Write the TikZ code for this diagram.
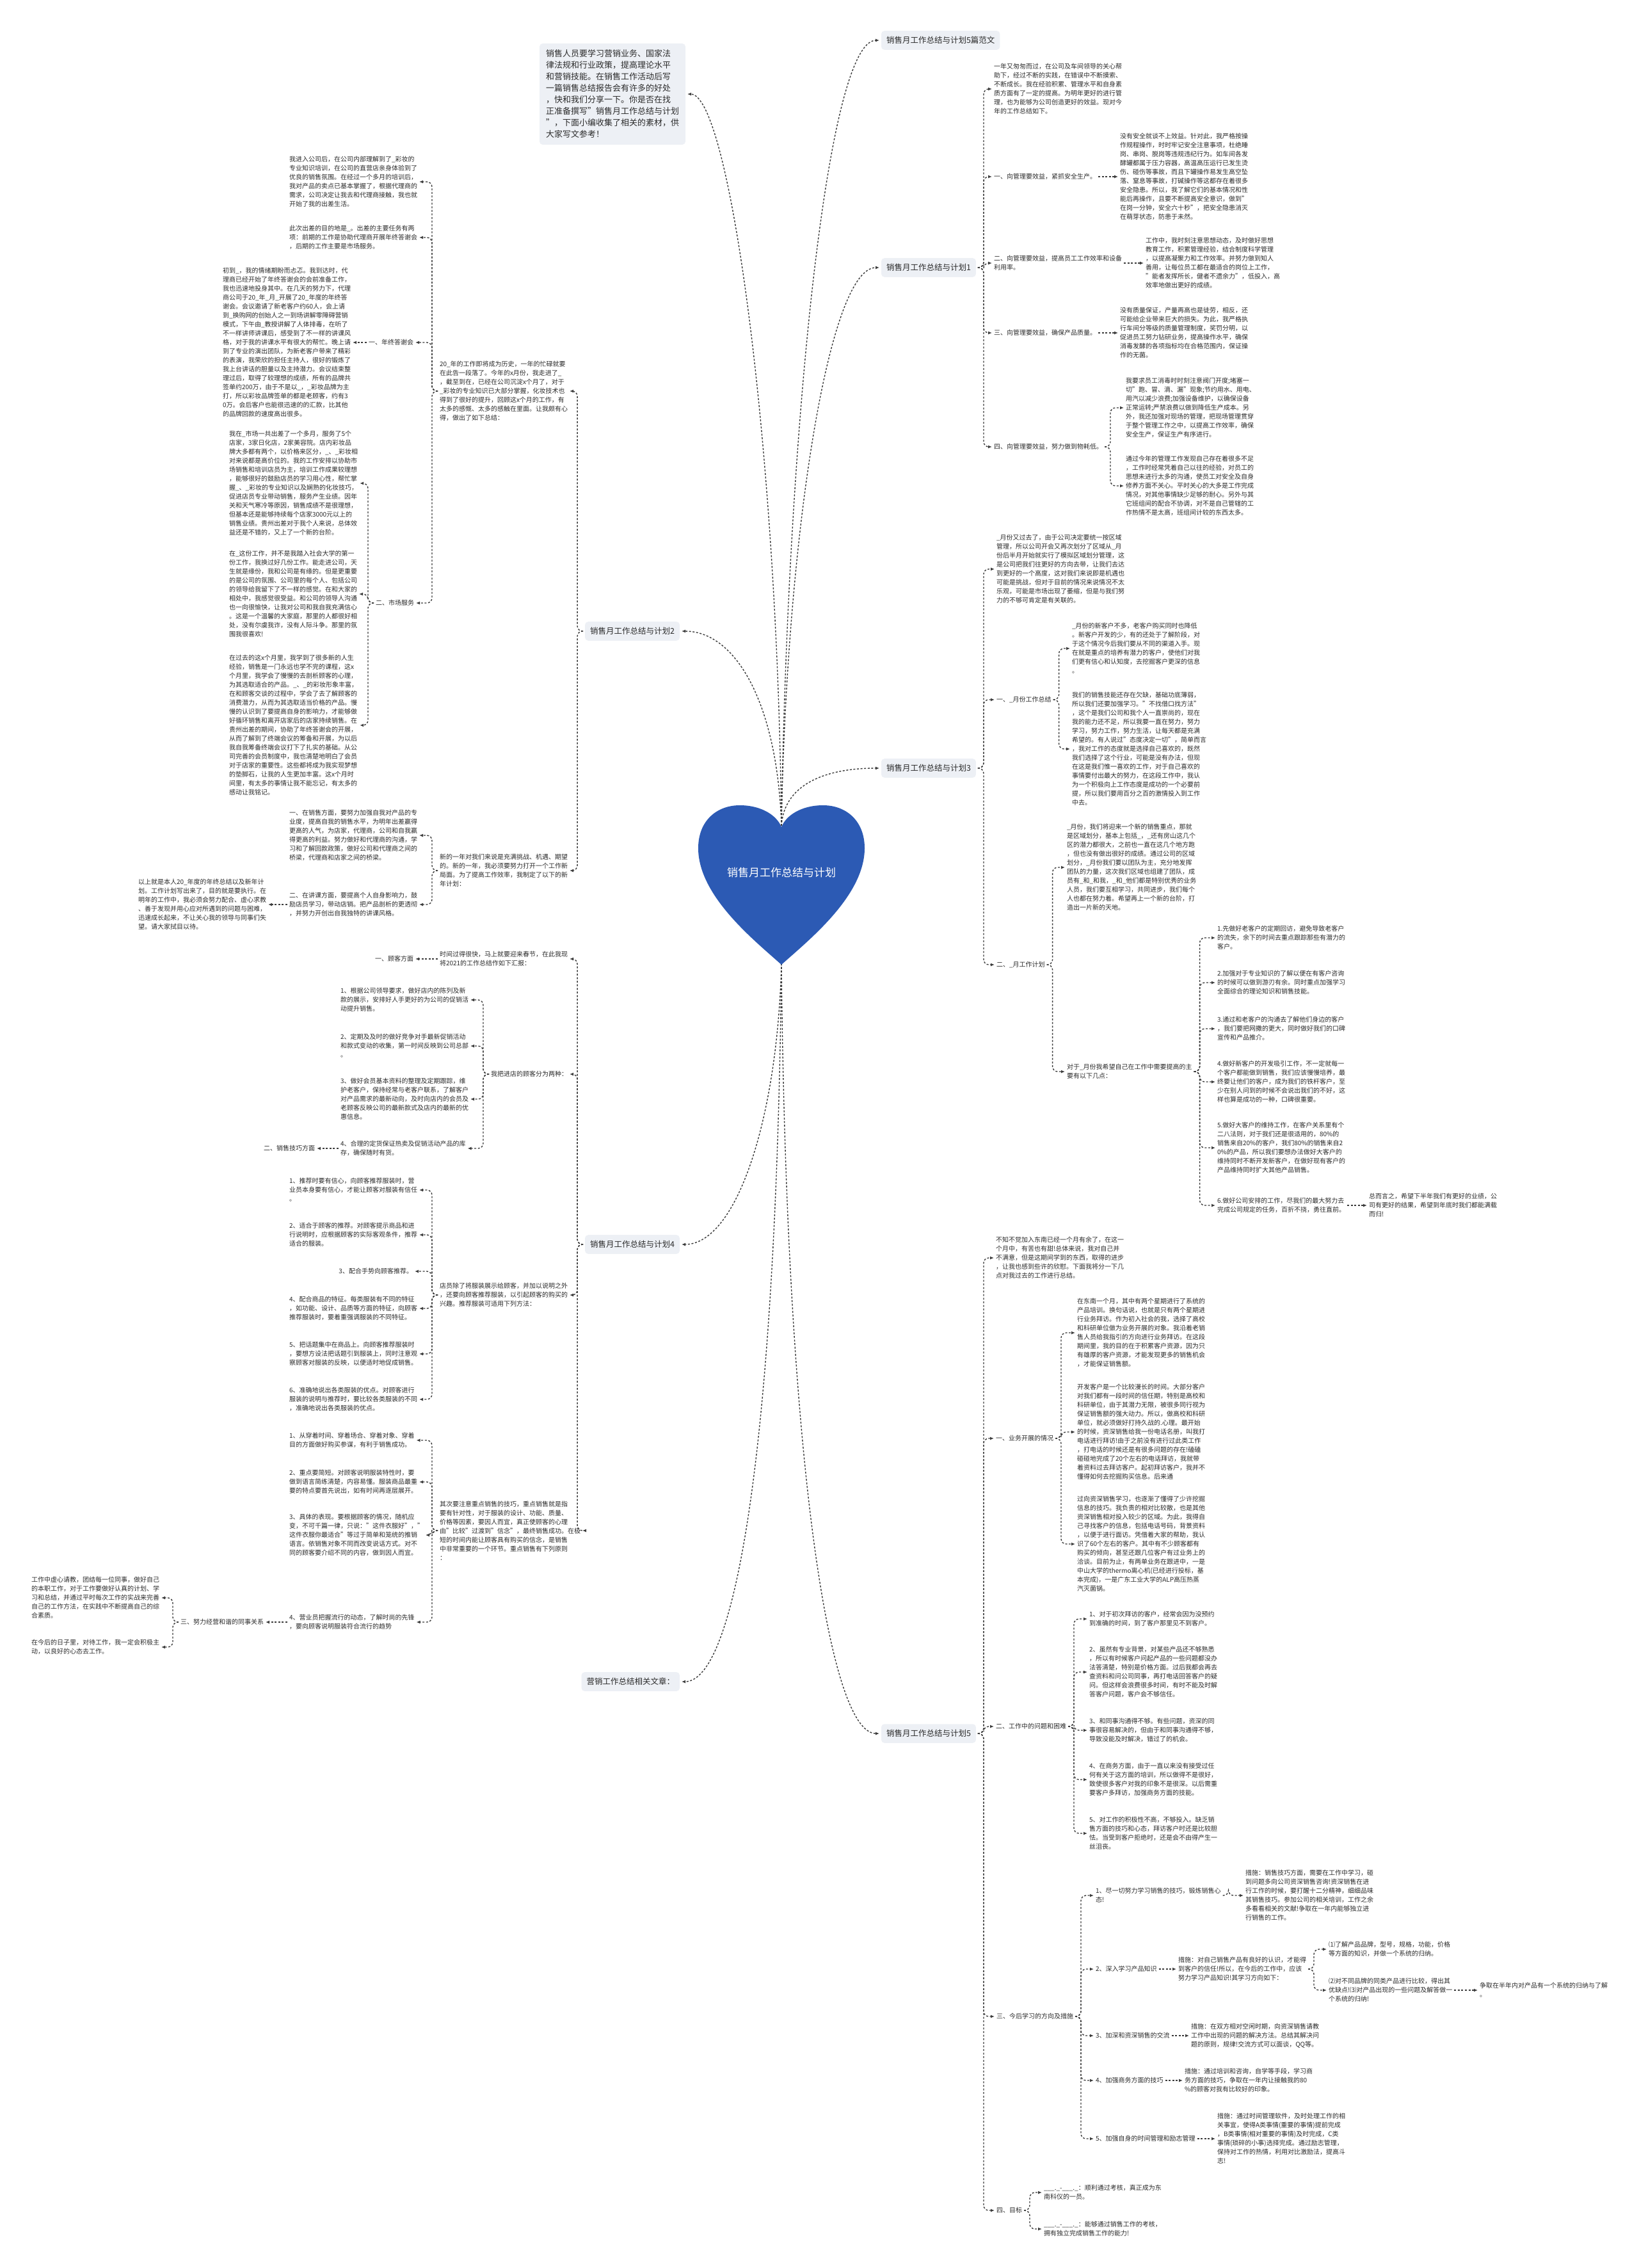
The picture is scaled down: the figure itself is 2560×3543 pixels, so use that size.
\documentclass[tikz,border=0pt]{standalone}
\usepackage{fontspec}
\setmainfont{Noto Sans CJK SC}
\usetikzlibrary{arrows.meta}
\definecolor{txt}{HTML}{2B2B2B}
\definecolor{boxfill}{HTML}{EDF0F5}
\definecolor{heartblue}{HTML}{2C5AB4}
\definecolor{lncol}{HTML}{3C3C3C}
\tikzset{
  conn/.style={draw=lncol,line width=1.4pt,dash pattern=on 3pt off 2.6pt,-{Latex[length=6pt,width=5pt]}},
  tx/.style={font=\fontsize{10}{14}\selectfont,align=left,inner sep=0pt,outer sep=3pt,text=txt},
  lv/.style={font=\fontsize{12.5}{15}\selectfont,fill=boxfill,rounded corners=5pt,inner xsep=8pt,inner ysep=9pt,outer sep=3pt,text=txt},
  intro/.style={font=\fontsize{13}{18}\selectfont,align=left,fill=boxfill,rounded corners=5pt,inner sep=10pt,outer sep=3pt,text=txt},
}
\newcommand{\conR}[2]{\draw[conn,rounded corners=8pt] (#1.east) -- ++(9,0) |- (#2.west);}
\newcommand{\conL}[2]{\draw[conn,rounded corners=8pt] (#1.west) -- ++(-9,0) |- (#2.east);}
\newcommand{\strR}[2]{\draw[conn] (#1.east) -- (#2.west);}
\newcommand{\strL}[2]{\draw[conn] (#1.west) -- (#2.east);}
\begin{document}
\begin{tikzpicture}[x=1pt,y=-1pt]
\fill[white] (0,0) rectangle (2560,3543);
\useasboundingbox (0,0) rectangle (2560,3543);

\coordinate (hT) at (1221,1290);
\coordinate (hB) at (1221,1505);

% ---------- intro ----------
\node[intro] (intro) at (957,147) {销售人员要学习营销业务、国家法\\律法规和行业政策，提高理论水平\\和营销技能。在销售工作活动后写\\一篇销售总结报告会有许多的好处\\，快和我们分享一下。你是否在找\\正准备撰写"销售月工作总结与计划\\"，下面小编收集了相关的素材，供\\大家写文参考！};

% ---------- level 1 ----------
\node[lv,anchor=west] (R0) at (1374,63) {销售月工作总结与计划5篇范文};
\node[lv,anchor=west] (R1) at (1374,418) {销售月工作总结与计划1};
\node[lv,anchor=west] (R3) at (1374,1200) {销售月工作总结与计划3};
\node[lv,anchor=west] (R5) at (1374,2708) {销售月工作总结与计划5};
\node[lv,anchor=east] (L2) at (1065,986) {销售月工作总结与计划2};
\node[lv,anchor=east] (L4) at (1065,1944) {销售月工作总结与计划4};
\node[lv,anchor=east] (L6) at (1065,2627) {营销工作总结相关文章：};

% ---------- branch 1 ----------
\node[tx,anchor=west] (c1) at (1550,139) {一年又匆匆而过，在公司及车间领导的关心帮\\助下，经过不断的实践，在错误中不断摸索、\\不断成长。我在经验积累、管理水平和自身素\\质方面有了一定的提高。为明年更好的进行管\\理，也为能够为公司创造更好的效益。现对今\\年的工作总结如下。};
\node[tx,anchor=west] (c2) at (1550,276) {一、向管理要效益，紧抓安全生产。};
\node[tx,anchor=west] (c2t) at (1747,276) {没有安全就谈不上效益。针对此，我严格按操\\作规程操作，时时牢记安全注意事项，杜绝睡\\岗、串岗、脱岗等违规违纪行为。如车间各发\\酵罐都属于压力容器，高温高压运行已发生烫\\伤、碰伤等事故，而且下罐操作易发生高空坠\\落、窒息等事故，打碱操作等这都存在着很多\\安全隐患。所以，我了解它们的基本情况和性\\能后再操作，且要不断提高安全意识，做到"\\在岗一分钟，安全六十秒"，把安全隐患消灭\\在萌芽状态，防患于未然。};
\node[tx,anchor=west] (c3) at (1550,411) {二、向管理要效益，提高员工工作效率和设备\\利用率。};
\node[tx,anchor=west] (c3t) at (1787,411) {工作中，我时刻注意思想动态，及时做好思想\\教育工作，积累管理经验，结合制度科学管理\\，以提高凝聚力和工作效率。并努力做到知人\\善用，让每位员工都在最适合的岗位上工作，\\"能者发挥所长，健者不遗余力"，低投入，高\\效率地做出更好的成绩。};
\node[tx,anchor=west] (c4) at (1550,520) {三、向管理要效益，确保产品质量。};
\node[tx,anchor=west] (c4t) at (1747,520) {没有质量保证，产量再高也是徒劳，相反，还\\可能给企业带来巨大的损失。为此，我严格执\\行车间分等级的质量管理制度，奖罚分明，以\\促进员工努力钻研业务，提高操作水平，确保\\消毒发酵的各项指标均在合格范围内，保证操\\作的无菌。};
\node[tx,anchor=west] (c5) at (1550,698) {四、向管理要效益，努力做到物耗低。};
\node[tx,anchor=west] (c5a) at (1756,637) {我要求员工消毒时时刻注意阀门开度;堵塞一\\切"跑、冒、滴、漏"现象;节约用水、用电、\\用汽以减少浪费;加强设备维护，以确保设备\\正常运转;严禁浪费以做到降低生产成本。另\\外，我还加强对现场的管理，把现场管理贯穿\\于整个管理工作之中，以提高工作效率，确保\\安全生产，保证生产有序进行。};
\node[tx,anchor=west] (c5b) at (1756,759) {通过今年的管理工作发现自己存在着很多不足\\，工作时经常凭着自己以往的经验，对员工的\\思想未进行太多的沟通，使员工对安全及自身\\修养方面不关心。平时关心的大多是工作完成\\情况，对其他事情缺少足够的耐心。另外与其\\它班组间的配合不协调，对不是自己管辖的工\\作热情不是太高，班组间计较的东西太多。};
\conR{R1}{c1}\conR{R1}{c2}\conR{R1}{c3}\conR{R1}{c4}\conR{R1}{c5}
\strR{c2}{c2t}\strR{c3}{c3t}\strR{c4}{c4t}
\conR{c5}{c5a}\conR{c5}{c5b}

% ---------- branch 3 ----------
\node[tx,anchor=west] (d1) at (1554,889) {\_月份又过去了，由于公司决定要统一按区域\\管理，所以公司开会又再次划分了区域从\_月\\份后半月开始就实行了模拟区域划分管理，这\\是公司把我们往更好的方向去带，让我们去达\\到更好的一个高度，这对我们来说即是机遇也\\可能是挑战，但对于目前的情况来说情况不太\\乐观，可能是市场出现了萎缩，但是与我们努\\力的不够可肯定是有关联的。};
\node[tx,anchor=west] (d2) at (1554,1093) {一、\_月份工作总结};
\node[tx,anchor=west] (d2a) at (1672,1013) {\_月份的新客户不多，老客户购买同时也降低\\。新客户开发的少，有的还处于了解阶段，对\\于这个情况今后我们要从不同的渠道入手。现\\在就是重点的培养有潜力的客户，使他们对我\\们更有信心和认知度，去挖掘客户更深的信息\\。};
\node[tx,anchor=west] (d2b) at (1672,1170) {我们的销售技能还存在欠缺，基础功底薄弱，\\所以我们还要加强学习。"不找借口找方法"\\，这个是我们公司和我个人一直崇尚的，现在\\我的能力还不足，所以我要一直在努力，努力\\学习，努力工作，努力生活，让每天都是充满\\希望的。有人说过"态度决定一切"，简单而言\\，我对工作的态度就是选择自己喜欢的，既然\\我们选择了这个行业，可能是没有办法，但现\\在这是我们惟一喜欢的工作，对于自己喜欢的\\事情要付出最大的努力，在这段工作中，我认\\为一个积极向上工作态度是成功的一个必要前\\提，所以我们要用百分之百的激情投入到工作\\中去。};
\node[tx,anchor=west] (d4) at (1554,1507) {二、\_月工作计划};
\node[tx,anchor=west] (d3) at (1664,1355) {\_月份，我们将迎来一个新的销售重点，那就\\是区域划分，基本上包括\_，\_还有房山这几个\\区的潜力都很大，之前也一直在这几个地方跑\\，但也没有做出很好的成绩。通过公司的区域\\划分，\_月份我们要以团队为主，充分地发挥\\团队的力量，这次我们区域也组建了团队，成\\员有\_和\_和我，\_和\_他们都是特别优秀的业务\\人员，我们要互相学习，共同进步，我们每个\\人也都在努力着。希望再上一个新的台阶，打\\造出一片新的天地。};
\node[tx,anchor=west] (d5) at (1664,1674) {对于\_月份我希望自己在工作中需要提高的主\\要有以下几点：};
\node[tx,anchor=west] (p1) at (1899,1465) {1.先做好老客户的定期回访，避免导致老客户\\的流失，余下的时间去重点跟踪那些有潜力的\\客户。};
\node[tx,anchor=west] (p2) at (1899,1535) {2.加强对于专业知识的了解以便在有客户咨询\\的时候可以做到游刃有余。同时重点加强学习\\全面综合的理论知识和销售技能。};
\node[tx,anchor=west] (p3) at (1899,1607) {3.通过和老客户的沟通去了解他们身边的客户\\，我们要把网撒的更大，同时做好我们的口碑\\宣传和产品推介。};
\node[tx,anchor=west] (p4) at (1899,1690) {4.做好新客户的开发吸引工作，不一定就每一\\个客户都能做到销售，我们应该慢慢培养，最\\终要让他们的客户，成为我们的铁杆客户，至\\少在别人问到的时候不会说出我们的不好，这\\样也算是成功的一种，口碑很重要。};
\node[tx,anchor=west] (p5) at (1899,1793) {5.做好大客户的维持工作，在客户关系里有个\\二八法则，对于我们还是很适用的，80\%的\\销售来自20\%的客户，我们80\%的销售来自2\\0\%的产品，所以我们要想办法做好大客户的\\维持同时不断开发新客户，在做好现有客户的\\产品维持同时扩大其他产品销售。};
\node[tx,anchor=west] (p6) at (1899,1883) {6.做好公司安排的工作，尽我们的最大努力去\\完成公司规定的任务，百折不挠，勇往直前。};
\node[tx,anchor=west] (p6t) at (2136,1883) {总而言之，希望下半年我们有更好的业绩，公\\司有更好的结果，希望到年底时我们都能满载\\而归!};
\conR{R3}{d1}\conR{R3}{d2}\conR{R3}{d4}
\conR{d2}{d2a}\conR{d2}{d2b}
\conR{d4}{d3}\conR{d4}{d5}
\conR{d5}{p1}\conR{d5}{p2}\conR{d5}{p3}\conR{d5}{p4}\conR{d5}{p5}\conR{d5}{p6}
\strR{p6}{p6t}

% ---------- branch 5 ----------
\node[tx,anchor=west] (g1) at (1553,1965) {不知不觉加入东南已经一个月有余了，在这一\\个月中，有苦也有甜!总体来说，我对自己并\\不满意，但是这期间学到的东西，取得的进步\\，让我也感到些许的欣慰。下面我将分一下几\\点对我过去的工作进行总结。};
\node[tx,anchor=west] (g2) at (1553,2247) {一、业务开展的情况};
\node[tx,anchor=west] (g2a) at (1680,2082) {在东南一个月，其中有两个星期进行了系统的\\产品培训。换句话说，也就是只有两个星期进\\行业务拜访。作为初入社会的我，选择了高校\\和科研单位做为业务开展的对象。我沿着老销\\售人员给我指引的方向进行业务拜访。在这段\\期间里，我的目的在于积累客户资源，因为只\\有雄厚的客户资源，才能发现更多的销售机会\\，才能保证销售额。};
\node[tx,anchor=west] (g2b) at (1680,2237) {开发客户是一个比较漫长的时间。大部分客户\\对我们都有一段时间的信任期，特别是高校和\\科研单位，由于其潜力无限，被很多同行视为\\保证销售额的强大动力。所以，做高校和科研\\单位，就必须做好打持久战的.心理。最开始\\的时候，资深销售给我一份电话名册，叫我打\\电话进行拜访!由于之前没有进行过此类工作\\，打电话的时候还是有很多问题的存在!磕磕\\碰碰地完成了20个左右的电话拜访，我就带\\着资料过去拜访客户。起初拜访客户，我并不\\懂得如何去挖掘购买信息。后来通};
\node[tx,anchor=west] (g2c) at (1680,2412) {过向资深销售学习，也逐渐了懂得了少许挖掘\\信息的技巧。我负责的相对比较散，也是其他\\资深销售相对投入较少的区域。为此，我得自\\己寻找客户的信息，包括电话号码，背景资料\\，以便于进行面访。凭借着大家的帮助，我认\\识了60个左右的客户。其中有不少顾客都有\\购买的倾向，甚至还跟几位客户有过业务上的\\洽谈。目前为止，有两单业务在跟进中，一是\\中山大学的thermo离心机(已经进行投标，基\\本完成)，一是广东工业大学的ALP高压热蒸\\汽灭菌锅。};
\node[tx,anchor=west] (g3) at (1553,2697) {二、工作中的问题和困难};
\node[tx,anchor=west] (q1) at (1699,2529) {1、对于初次拜访的客户，经常会因为没预约\\到准确的时间，到了客户那里见不到客户。};
\node[tx,anchor=west] (q2) at (1699,2612) {2、虽然有专业背景，对某些产品还不够熟悉\\，所以有时候客户问起产品的一些问题都没办\\法答清楚，特别是价格方面。过后我都会再去\\查资料和问公司同事，再打电话回答客户的疑\\问。但这样会浪费很多时间，有时不能及时解\\答客户问题，客户会不够信任。};
\node[tx,anchor=west] (q3) at (1699,2703) {3、和同事沟通得不够。有些问题，资深的同\\事很容易解决的，但由于和同事沟通得不够，\\导致没能及时解决，错过了的机会。};
\node[tx,anchor=west] (q4) at (1699,2780) {4、在商务方面，由于一直以来没有接受过任\\何有关于这方面的培训，所以做得不是很好，\\致使很多客户对我的印象不是很深。以后需重\\要客户多拜访，加强商务方面的技能。};
\node[tx,anchor=west] (q5) at (1699,2864) {5、对工作的积极性不高，不够投入。缺乏销\\售方面的技巧和心态，拜访客户时还是比较胆\\怯。当受到客户拒绝时，还是会不由得产生一\\丝沮丧。};
\node[tx,anchor=west] (g4) at (1554,3150) {三、今后学习的方向及措施};
\node[tx,anchor=west] (s1) at (1709,2961) {1、尽一切努力学习销售的技巧，锻炼销售心\\态!};
\node[tx,anchor=west] (s1t) at (1943,2961) {措施：销售技巧方面，需要在工作中学习，碰\\到问题多向公司资深销售咨询!资深销售在进\\行工作的时候，要打醒十二分精神，细细品味\\其销售技巧。参加公司的相关培训，工作之余\\多看看相关的文献!争取在一年内能够独立进\\行销售的工作。};
\node[tx,anchor=west] (s2) at (1709,3076) {2、深入学习产品知识};
\node[tx,anchor=west] (s2t) at (1838,3076) {措施：对自己销售产品有良好的认识，才能得\\到客户的信任!所以，在今后的工作中，应该\\努力学习产品知识!其学习方向如下：};
\node[tx,anchor=west] (s2a) at (2073,3045) {⑴了解产品品牌，型号，规格，功能，价格\\等方面的知识，并做一个系统的归纳。};
\node[tx,anchor=west] (s2b) at (2073,3109) {⑵对不同品牌的同类产品进行比较，得出其\\优缺点!⑶对产品出现的一些问题及解答做一\\个系统的归纳!};
\node[tx,anchor=west] (s2c) at (2309,3109) {争取在半年内对产品有一个系统的归纳与了解\\。};
\node[tx,anchor=west] (s3) at (1709,3180) {3、加深和资深销售的交流};
\node[tx,anchor=west] (s3t) at (1858,3180) {措施：在双方相对空闲时期，向资深销售请教\\工作中出现的问题的解决方法。总结其解决问\\题的原则，规律!交流方式可以面谈，QQ等。};
\node[tx,anchor=west] (s4) at (1709,3250) {4、加强商务方面的技巧};
\node[tx,anchor=west] (s4t) at (1848,3250) {措施：通过培训和咨询，自学等手段，学习商\\务方面的技巧，争取在一年内让接触我的80\\\%的顾客对我有比较好的印象。};
\node[tx,anchor=west] (s5) at (1709,3341) {5、加强自身的时间管理和励志管理};
\node[tx,anchor=west] (s5t) at (1899,3341) {措施：通过时间管理软件，及时处理工作的相\\关事宜，使得A类事情(重要的事情)提前完成\\，B类事情(相对重要的事情)及时完成，C类\\事情(琐碎的小事)选择完成。通过励志管理，\\保持对工作的热情，利用对比激励法，提高斗\\志!};
\node[tx,anchor=west] (g5) at (1554,3453) {四、目标};
\node[tx,anchor=west] (t1) at (1628,3425) {\_\_\_.\_-\_\_\_.\_：顺利通过考核，真正成为东\\南科仪的一员。};
\node[tx,anchor=west] (t2) at (1628,3482) {\_\_\_.\_-\_\_\_.\_：能够通过销售工作的考核，\\拥有独立完成销售工作的能力!};
\conR{R5}{g1}\conR{R5}{g2}\conR{R5}{g3}\conR{R5}{g4}\conR{R5}{g5}
\conR{g2}{g2a}\conR{g2}{g2b}\conR{g2}{g2c}
\conR{g3}{q1}\conR{g3}{q2}\conR{g3}{q3}\conR{g3}{q4}\conR{g3}{q5}
\conR{g4}{s1}\conR{g4}{s2}\conR{g4}{s3}\conR{g4}{s4}\conR{g4}{s5}
\conR{s1}{s1t}\strR{s2}{s2t}\strR{s3}{s3t}\strR{s4}{s4t}\strR{s5}{s5t}
\conR{s2t}{s2a}\conR{s2t}{s2b}\strR{s2b}{s2c}
\conR{g5}{t1}\conR{g5}{t2}

% ---------- branch 2 ----------
\node[tx,anchor=west] (e1) at (684,611) {20\_年的工作即将成为历史，一年的忙碌就要\\在此告一段落了。今年的x月份，我走进了\_\\，截至到在，已经在公司沉淀x个月了，对于\\\_彩妆的专业知识已大部分掌握，化妆技术也\\得到了很好的提升，回顾这x个月的工作，有\\太多的感慨、太多的感触在里面。让我颇有心\\得，做出了如下总结：};
\node[tx,anchor=west] (k1) at (449,284) {我进入公司后，在公司内部理解到了\_彩妆的\\专业知识培训，在公司的直营店亲身体验到了\\优良的销售氛围。在经过一个多月的培训后，\\我对产品的卖点已基本掌握了，根据代理商的\\需求，公司决定让我去和代理商接触，我也就\\开始了我的出差生活。};
\node[tx,anchor=west] (k2) at (449,371) {此次出差的目的地是\_。出差的主要任务有两\\项：前期的工作是协助代理商开展年终答谢会\\，后期的工作主要是市场服务。};
\node[tx,anchor=east] (k3) at (649,535) {一、年终答谢会};
\node[tx,anchor=west] (k3t) at (345,535) {初到\_，我的情绪期盼而忐忑。我到达时，代\\理商已经开始了年终答谢会的会前准备工作，\\我也迅速地投身其中。在几天的努力下，代理\\商公司于20\_年\_月\_开展了20\_年度的年终答\\谢会。会议邀请了新老客户约60人，会上请\\到\_换购网的创始人之一到场讲解零障碍营销\\模式，下午由\_教授讲解了人体排毒，在听了\\不一样讲师讲课后，感受到了不一样的讲课风\\格，对于我的讲课水平有很大的帮忙。晚上请\\到了专业的演出团队，为新老客户带来了精彩\\的表演，我荣欣的担任主持人，很好的锻炼了\\我上台讲话的胆量以及主持潜力。会议结束整\\理过后，取得了较理想的成绩，所有的品牌共\\签单约200万，由于不是以\_，\_彩妆品牌为主\\打，所以彩妆品牌签单的都是老顾客，约有3\\0万。会后客户也能很迅速的的汇款，比其他\\的品牌回款的速度高出很多。};
\node[tx,anchor=east] (k4) at (650,942) {二、市场服务};
\node[tx,anchor=west] (kA) at (355,755) {我在\_市场一共出差了一个多月，服务了5个\\店家，3家日化店，2家美容院。店内彩妆品\\牌大多都有两个，以价格来区分，\_、\_彩妆相\\对来说都是高价位的。我的工作安排以协助市\\场销售和培训店员为主，培训工作成果较理想\\，能够很好的鼓励店员的学习用心性，帮忙掌\\握\_、\_彩妆的专业知识以及娴熟的化妆技巧，\\促进店员专业带动销售，服务产生业绩。因年\\关和天气寒冷等原因，销售成绩不是很理想，\\但基本还是能够持续每个店家3000元以上的\\销售业绩。贵州出差对于我个人来说，总体效\\益还是不错的，又上了一个新的台阶。};
\node[tx,anchor=west] (kB) at (355,928) {在\_这份工作，并不是我踏入社会大学的第一\\份工作，我换过好几份工作。能走进公司，天\\生就是缘份，我和公司是有缘的。但是更重要\\的是公司的氛围、公司里的每个人、包括公司\\的领导给我留下了不一样的感觉。在和大家的\\相处中，我感觉很受益。和公司的领导人沟通\\也一向很愉快，让我对公司和我自我充满信心\\。这是一个温馨的大家庭，那里的人都很好相\\处，没有尔虞我诈，没有人际斗争。那里的氛\\围我很喜欢!};
\node[tx,anchor=west] (kC) at (355,1133) {在过去的这x个月里，我学到了很多新的人生\\经验，销售是一门永远也学不完的课程，这x\\个月里，我学会了慢慢的去剖析顾客的心理，\\为其选取适合的产品。\_、\_的彩妆形象丰富，\\在和顾客交谈的过程中，学会了去了解顾客的\\消费潜力，从而为其选取适当价格的产品。慢\\慢的认识到了要提高自身的影响力，才能够做\\好循环销售和离开店家后的店家持续销售。在\\贵州出差的期间，协助了年终答谢会的开展，\\从而了解到了终端会议的筹备和开展，为以后\\我自我筹备终端会议打下了扎实的基础。从公\\司完善的会员制度中，我也清楚地明白了会员\\对于店家的重要性。这些都将成为我实现梦想\\的垫脚石，让我的人生更加丰富。这x个月时\\间里，有太多的事情让我不能忘记，有太多的\\感动让我铭记。};
\node[tx,anchor=west] (e2) at (684,1360) {新的一年对我们来说是充满挑战、机遇、期望\\的。新的一年，我必须要努力打开一个工作新\\局面。为了提高工作效率，我制定了以下的新\\年计划：};
\node[tx,anchor=west] (m1) at (449,1305) {一、在销售方面，要努力加强自我对产品的专\\业度，提高自我的销售水平，为明年出差赢得\\更高的人气，为店家，代理商，公司和自我赢\\得更高的利益。努力做好和代理商的沟通，学\\习和了解回款政策，做好公司和代理商之间的\\桥梁，代理商和店家之间的桥梁。};
\node[tx,anchor=west] (m2) at (449,1413) {二、在讲课方面，要提高个人自身影响力，鼓\\励店员学习，带动店销。把产品剖析的更透彻\\，并努力开创出自我独特的讲课风格。};
\node[tx,anchor=west] (m2t) at (213,1413) {以上就是本人20\_年度的年终总结以及新年计\\划。工作计划写出来了，目的就是要执行。在\\明年的工作中，我必须会努力配合、虚心求教\\、善于发现并用心应对所遇到的问题与困难，\\迅速成长起来，不让关心我的领导与同事们失\\望。请大家拭目以待。};
\conL{L2}{e1}\conL{L2}{e2}
\conL{e1}{k1}\conL{e1}{k2}\conL{e1}{k3}\conL{e1}{k4}
\strL{k3}{k3t}
\conL{k4}{kA}\conL{k4}{kB}\conL{k4}{kC}
\conL{e2}{m1}\conL{e2}{m2}\strL{m2}{m2t}

% ---------- branch 4 ----------
\node[tx,anchor=west] (e3) at (684,1498) {时间过得很快，马上就要迎来春节，在此我现\\将2021的工作总结作如下汇报：};
\node[tx,anchor=east] (n1) at (649,1498) {一、顾客方面};
\node[tx,anchor=west] (n2) at (764,1678) {我把进店的顾客分为两种：};
\node[tx,anchor=west] (u1) at (529,1562) {1、根据公司领导要求，做好店内的陈列及新\\款的展示，安排好人手更好的为公司的促销活\\动提升销售。};
\node[tx,anchor=west] (u2) at (529,1634) {2、定期及及时的做好竞争对手最新促销活动\\和款式变动的收集，第一时间反映到公司总部\\。};
\node[tx,anchor=west] (u3) at (529,1717) {3、做好会员基本资料的整理及定期跟踪，维\\护老客户，保持经常与老客户联系，了解客户\\对产品需求的最新动向，及时向店内的会员及\\老顾客反映公司的最新款式及店内的最新的优\\惠信息。};
\node[tx,anchor=west] (u4) at (529,1794) {4、合理的定货保证热卖及促销活动产品的库\\存，确保随时有货。};
\node[tx,anchor=east] (u4t) at (495,1794) {二、销售技巧方面};
\node[tx,anchor=west] (f1) at (684,2023) {店员除了将服装展示给顾客，并加以说明之外\\，还要向顾客推荐服装，以引起顾客的购买的\\兴趣。推荐服装可适用下列方法：};
\node[tx,anchor=west] (v1) at (449,1859) {1、推荐时要有信心，向顾客推荐服装时，营\\业员本身要有信心，才能让顾客对服装有信任\\。};
\node[tx,anchor=west] (v2) at (449,1929) {2、适合于顾客的推荐。对顾客提示商品和进\\行说明时，应根据顾客的实际客观条件，推荐\\适合的服装。};
\node[tx,anchor=east] (v3) at (648,1986) {3、配合手势向顾客推荐。};
\node[tx,anchor=west] (v4) at (449,2044) {4、配合商品的特征。每类服装有不同的特征\\，如功能、设计、品质等方面的特征，向顾客\\推荐服装时，要着重强调服装的不同特征。};
\node[tx,anchor=west] (v5) at (449,2115) {5、把话题集中在商品上。向顾客推荐服装时\\，要想方设法把话题引到服装上，同时注意观\\察顾客对服装的反映，以便适时地促成销售。};
\node[tx,anchor=west] (v6) at (449,2186) {6、准确地说出各类服装的优点。对顾客进行\\服装的说明与推荐时，要比较各类服装的不同\\，准确地说出各类服装的优点。};
\node[tx,anchor=west] (f2) at (684,2391) {其次要注意重点销售的技巧，重点销售就是指\\要有针对性，对于服装的设计、功能、质量、\\价格等因素，要因人而宜，真正使顾客的心理\\由"比较"过渡到"信念"，最终销售成功。在极\\短的时间内能让顾客具有购买的信念，是销售\\中非常重要的一个环节。重点销售有下列原则\\：};
\node[tx,anchor=west] (w1) at (449,2250) {1、从穿着时间、穿着场合、穿着对象、穿着\\目的方面做好购买参谋，有利于销售成功。};
\node[tx,anchor=west] (w2) at (449,2315) {2、重点要简短。对顾客说明服装特性时，要\\做到语言简练清楚，内容易懂。服装商品最重\\要的特点要首先说出，如有时间再逐层展开。};
\node[tx,anchor=west] (w3) at (449,2398) {3、具体的表现。要根据顾客的情况，随机应\\变，不可千篇一律，只说："这件衣服好"，"\\这件衣服你最适合"等过于简单和笼统的推销\\语言。依销售对象不同而改变说话方式。对不\\同的顾客要介绍不同的内容，做到因人而宜。};
\node[tx,anchor=west] (w4) at (449,2534) {4、营业员把握流行的动态，了解时尚的先锋\\，要向顾客说明服装符合流行的趋势};
\node[tx,anchor=east] (w4t) at (415,2534) {三、努力经营和谐的同事关系};
\node[tx,anchor=east] (x1) at (252,2496) {工作中虚心请教，团结每一位同事，做好自己\\的本职工作，对于工作要做好认真的计划、学\\习和总结，并通过平时每次工作的实战来完善\\自己的工作方法，在实践中不断提高自己的综\\合素质。};
\node[tx,anchor=east] (x2) at (252,2573) {在今后的日子里，对待工作，我一定会积极主\\动，以良好的心态去工作。};
\conL{L4}{e3}\conL{L4}{n2}\conL{L4}{f1}\conL{L4}{f2}
\strL{e3}{n1}
\conL{n2}{u1}\conL{n2}{u2}\conL{n2}{u3}\conL{n2}{u4}
\strL{u4}{u4t}
\conL{f1}{v1}\conL{f1}{v2}\conL{f1}{v3}\conL{f1}{v4}\conL{f1}{v5}\conL{f1}{v6}
\conL{f2}{w1}\conL{f2}{w2}\conL{f2}{w3}\conL{f2}{w4}
\strL{w4}{w4t}
\conL{w4t}{x1}\conL{w4t}{x2}

% ---------- main connectors ----------
\draw[conn] (hT) .. controls (1215,700) and (1140,147) .. (intro.east);
\draw[conn] (hT) .. controls (1230,700) and (1290,63) .. (R0.west);
\draw[conn] (hT) .. controls (1228,860) and (1292,418) .. (R1.west);
\draw[conn] (hT) .. controls (1225,1225) and (1290,1200) .. (R3.west);
\draw[conn] (hT) .. controls (1215,1100) and (1150,986) .. (L2.east);
\draw[conn] (hB) .. controls (1215,1750) and (1150,1944) .. (L4.east);
\draw[conn] (hB) .. controls (1213,2250) and (1150,2627) .. (L6.east);
\draw[conn] (hB) .. controls (1228,2250) and (1292,2708) .. (R5.west);

% ---------- heart ----------
\fill[heartblue] (1221,1507) .. controls (1180,1470) and (1091,1400) .. (1091,1325)
  .. controls (1091,1282) and (1120,1258) .. (1156,1258)
  .. controls (1190,1258) and (1214,1274) .. (1221,1292)
  .. controls (1228,1274) and (1252,1258) .. (1286,1258)
  .. controls (1322,1258) and (1351,1282) .. (1351,1325)
  .. controls (1351,1400) and (1262,1470) .. (1221,1507) -- cycle;
\node[font=\fontsize{17}{20}\selectfont,text=white] (hl) at (1221,1363) {销售月工作总结与计划};
\end{tikzpicture}
\end{document}
